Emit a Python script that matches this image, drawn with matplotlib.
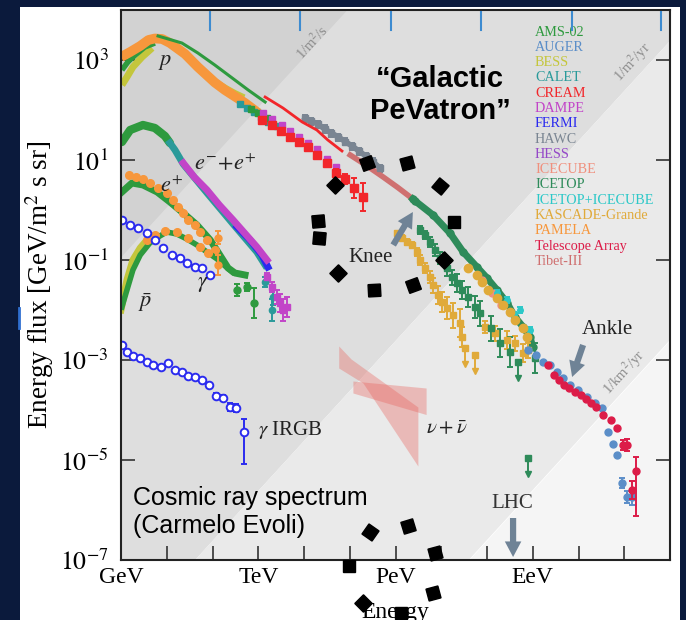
import matplotlib.pyplot as plt
import numpy as np
from matplotlib.patches import Rectangle
from matplotlib.lines import Line2D

plt.rcParams['font.family'] = ['Liberation Serif', 'DejaVu Serif']
plt.rcParams['mathtext.fontset'] = 'stix'

# all values are log10(E / GeV) and log10(energy flux)

# protons
ams_p_lo_E = [0.02, 0.15, 0.31, 0.52, 0.74]
ams_p_lo_F = [2.80, 2.96, 3.10, 3.26, 3.34]
ams_p_E = [0.81, 1.33, 1.68, 2.05, 2.43, 2.78, 3.15]
ams_p_F = [3.48, 3.34, 3.14, 2.90, 2.64, 2.40, 2.16]
bess_p_E = [0.02, 0.13, 0.26, 0.46, 0.68]
bess_p_F = [2.50, 2.66, 2.86, 3.06, 3.24]
bess_p2_E = [2.12, 2.30, 2.50, 2.64]
bess_p2_F = [2.54, 2.44, 2.34, 2.28]
pamela_p_E = [0.0, 0.2, 0.42, 0.6, 0.74, 0.9, 1.07, 1.4, 1.68, 2.05, 2.27, 2.71, 3.0]
pamela_p_F = [3.06, 3.16, 3.28, 3.40, 3.43, 3.42, 3.34, 3.12, 2.86, 2.55, 2.40, 2.14, 1.94]
calet_p_E = [2.60, 2.75, 2.90, 3.05, 3.22, 3.40]
calet_p_F = [2.12, 2.04, 1.96, 1.86, 1.76, 1.68]
ams_psq_E = [2.85, 3.0, 3.19]
ams_psq_F = [2.02, 1.94, 1.84]
dampe_p_E = [3.10, 3.30, 3.52, 3.69, 3.89, 4.09, 4.28, 4.50, 4.70]
dampe_p_F = [1.94, 1.82, 1.70, 1.58, 1.46, 1.34, 1.22, 1.02, 0.86]
cream_p_E = [3.08, 3.30, 3.50, 3.69, 3.89, 4.09, 4.28, 4.50, 4.70, 4.90, 5.09, 5.29]
cream_p_F = [1.80, 1.70, 1.58, 1.46, 1.36, 1.26, 1.10, 0.94, 0.74, 0.62, 0.44, 0.26]
cream_p_err = [0.02, 0.02, 0.02, 0.02, 0.02, 0.03, 0.04, 0.05, 0.08, 0.10, 0.20, 0.28]
cream_line_E = [3.15, 3.54, 3.96, 4.28, 4.52, 4.83]
cream_line_F = [2.26, 2.04, 1.76, 1.60, 1.40, 1.18]
hawc_E = [4.02, 4.15, 4.30, 4.45, 4.60, 4.75, 4.90, 5.05, 5.20, 5.35, 5.50, 5.66]
hawc_F = [1.84, 1.78, 1.72, 1.62, 1.54, 1.46, 1.37, 1.28, 1.18, 1.08, 0.97, 0.84]
tibet_E = [5.01, 5.35, 5.73, 6.05, 6.38]
tibet_F = [1.10, 0.90, 0.66, 0.45, 0.22]

# knee to ankle
icetop_E = [6.38, 6.43, 6.82, 7.19, 7.48, 7.78, 8.00, 8.22, 8.44, 8.61, 8.79, 8.94, 9.00]
icetop_F = [0.22, 0.18, -0.10, -0.46, -0.84, -1.14, -1.36, -1.60, -1.86, -2.14, -2.34, -2.54, -2.74]
kg_all_E = [7.58, 7.78, 7.89, 8.02, 8.22, 8.35, 8.50, 8.61, 8.79, 8.87]
kg_all_F = [-1.16, -1.30, -1.44, -1.60, -1.76, -1.90, -2.04, -2.20, -2.36, -2.54]
icecube_E = [7.90, 8.10, 8.30]
icecube_F = [-1.40, -1.66, -1.90]
itic_E = [8.22, 8.44, 8.60, 8.72, 8.94]
itic_F = [-1.66, -1.80, -2.10, -2.00, -2.40]
kg_light_E = [6.03, 6.14, 6.25, 6.36, 6.47, 6.54, 6.64, 6.75, 6.82, 6.93, 7.02, 7.13, 7.26, 7.41, 7.45]
kg_light_F = [-0.46, -0.55, -0.64, -0.70, -0.84, -1.00, -1.16, -1.34, -1.50, -1.70, -1.84, -1.96, -2.10, -2.26, -2.54]
kg_light_err = [0.05, 0.05, 0.06, 0.06, 0.08, 0.10, 0.10, 0.12, 0.15, 0.18, 0.20, 0.22, 0.25, 0.28, 0.20]
kg_light_ul_E = [7.52, 7.74]
kg_light_ul_F = [-2.76, -2.90]
kg_heavy_E = [7.96, 8.17, 8.44, 8.61, 8.79, 8.90]
kg_heavy_F = [-2.34, -2.46, -2.60, -2.66, -2.86, -2.80]
kg_heavy_err = [0.12, 0.15, 0.18, 0.15, 0.18, 0.15]
it_comp_E = [6.54, 6.64, 6.75, 6.86, 6.97, 7.13, 7.23, 7.34, 7.45, 7.58, 7.74, 7.85, 8.09, 8.28, 8.50, 9.05]
it_comp_F = [-0.40, -0.50, -0.64, -0.80, -0.96, -1.16, -1.34, -1.46, -1.60, -1.74, -1.94, -2.06, -2.36, -2.66, -2.84, -2.96]
it_comp_err = [0.08, 0.08, 0.10, 0.12, 0.12, 0.15, 0.15, 0.18, 0.18, 0.20, 0.22, 0.25, 0.25, 0.28, 0.30, 0.30]
it_comp_ul_E = [8.68, 8.90]
it_comp_ul_F = [-3.04, -4.96]

# ankle and beyond
auger_E = [8.90, 9.07, 9.22, 9.38, 9.53, 9.66, 9.81, 9.99, 10.19, 10.36, 10.51, 10.64, 10.75, 10.84, 10.95, 11.06, 11.17]
auger_F = [-2.80, -2.90, -3.04, -3.10, -3.24, -3.36, -3.50, -3.60, -3.74, -3.86, -3.96, -4.44, -4.68, -4.90, -5.46, -5.74, -5.74]
auger_err = [0.02] * 14 + [0.10, 0.12, 0.15]
ta_E = [9.33, 9.46, 9.57, 9.68, 9.79, 9.92, 10.05, 10.16, 10.27, 10.38, 10.54, 10.71, 10.84, 10.97, 11.06, 11.17, 11.26]
ta_F = [-3.10, -3.30, -3.40, -3.50, -3.56, -3.64, -3.70, -3.78, -3.86, -3.94, -4.10, -4.20, -4.36, -4.70, -4.70, -5.60, -5.22]
ta_err_lo = [0.02] * 13 + [0.10, 0.12, 0.18, 0.90]
ta_err_hi = [0.02] * 13 + [0.10, 0.12, 0.18, 0.28]

# electrons + positrons
ams_ee_E = [0.02, 0.20, 0.48, 0.74, 0.96, 1.07]
ams_ee_F = [1.36, 1.60, 1.70, 1.64, 1.48, 1.34]
calet_ee_E = [1.07, 1.18, 1.36, 1.90, 2.45, 2.97, 3.15]
calet_ee_F = [1.34, 1.20, 0.92, 0.32, -0.28, -0.84, -1.10]
dampe_ee_E = [1.36, 1.60, 1.88, 2.15, 2.45, 2.70, 2.97, 3.19]
dampe_ee_F = [0.94, 0.66, 0.40, 0.10, -0.20, -0.46, -0.74, -1.00]
fermi_ee_E = [2.54, 2.82, 3.08, 3.21]
fermi_ee_F = [-0.34, -0.60, -0.90, -1.14]
ee_tail_E = [3.19, 3.30, 3.41, 3.48, 3.54, 3.63]
ee_tail_F = [-1.34, -1.54, -1.74, -1.86, -2.00, -1.94]
ee_tail_err = [0.08, 0.10, 0.14, 0.18, 0.22, 0.20]
calet_tail_E = [3.15, 3.32, 3.30]
calet_tail_F = [-1.44, -1.74, -2.00]
calet_tail_err = [0.10, 0.15, 0.22]

# positrons
ams_pos_E = [0.02, 0.24, 0.48, 0.79, 1.07, 1.36, 1.66, 1.95, 2.16, 2.34, 2.49, 2.71]
ams_pos_F = [0.36, 0.54, 0.50, 0.36, 0.16, -0.06, -0.30, -0.60, -0.90, -1.16, -1.26, -1.30]
pamela_pos_E = [0.17, 0.33, 0.48, 0.63, 0.81, 1.00, 1.14, 1.25, 1.36, 1.46, 1.62, 1.73, 1.88, 2.05]
pamela_pos_F = [0.70, 0.66, 0.62, 0.54, 0.44, 0.34, 0.20, 0.06, -0.06, -0.20, -0.30, -0.44, -0.60, -0.80]
pamela_pos_hi_E = [2.12, 2.12]
pamela_pos_hi_F = [-0.55, -1.10]
pamela_pos_hi_err = [0.13, 0.20]
ams_pos_hi_E = [2.54, 2.75, 2.91]
ams_pos_hi_F = [-1.60, -1.54, -1.86]
ams_pos_hi_err = [0.12, 0.08, 0.30]

# antiprotons
bess_pbar_E = [0.00, 0.13, 0.26, 0.42, 0.55]
bess_pbar_F = [-2.00, -1.40, -1.00, -0.76, -0.62]
ams_pbar_E = [0.02, 0.13, 0.26, 0.42, 0.63, 0.85, 1.00, 1.22, 1.44, 1.66, 1.88, 2.10, 2.30, 2.43]
ams_pbar_F = [-1.94, -1.60, -1.20, -0.90, -0.66, -0.52, -0.44, -0.48, -0.58, -0.70, -0.84, -0.98, -1.14, -1.24]
pamela_pbar_E = [0.57, 0.74, 0.96, 1.22, 1.46, 1.73, 1.90]
pamela_pbar_F = [-0.60, -0.50, -0.42, -0.44, -0.56, -0.74, -0.86]

# gamma rays
gamma_E = [0.02, 0.20, 0.37, 0.57, 0.74, 0.92, 1.11, 1.29, 1.44, 1.62, 1.77, 1.95]
gamma_F = [-0.20, -0.30, -0.36, -0.46, -0.60, -0.76, -0.90, -0.96, -1.06, -1.14, -1.16, -1.30]
irgb_E = [0.02, 0.13, 0.26, 0.42, 0.57, 0.70, 0.87, 1.03, 1.18, 1.33, 1.46, 1.62, 1.77, 1.92, 2.08, 2.23, 2.38, 2.51, 2.69]
irgb_F = [-2.70, -2.84, -2.92, -2.96, -3.04, -3.10, -3.14, -3.06, -3.20, -3.24, -3.32, -3.34, -3.40, -3.50, -3.72, -3.76, -3.94, -3.96, -4.44]
irgb_err_lo = [0.02] * 13 + [0.03, 0.06, 0.06, 0.08, 0.08, 0.64]
irgb_err_hi = [0.02] * 13 + [0.03, 0.06, 0.06, 0.08, 0.08, 0.26]

# neutrino bands (polygon outlines)
nu_a_E = [4.77, 5.04, 6.50, 6.50, 5.30, 4.77]
nu_a_F = [-2.73, -2.99, -3.95, -5.13, -3.47, -3.17]
nu_b_E = [5.08, 6.68, 6.68, 5.08]
nu_b_F = [-3.43, -3.57, -4.10, -3.67]

legend_names = ['AMS-02', 'AUGER', 'BESS', 'CALET', 'CREAM', 'DAMPE', 'FERMI', 'HAWC', 'HESS',
                'ICECUBE', 'ICETOP', 'ICETOP+ICECUBE', 'KASCADE-Grande', 'PAMELA',
                'Telescope Array', 'Tibet-III']
legend_colors = ['#2e9a3e', '#5b8ec8', '#c4c63c', '#2a9a9a', '#f2262a', '#c244c8', '#2b2bef', '#7a8592',
                 '#9548c8', '#f0907e', '#2e8b5a', '#2cc8c8', '#e0aa3a', '#f7973c', '#dc1c48', '#cf7070']
col = dict(zip(legend_names, legend_colors))

# "Galactic PeVatron" marker ring (log E, log F, marker rotation)
ring = [(5.38, 0.94, 65), (6.25, 0.94, 60), (4.68, 0.50, 0), (6.97, 0.48, 5), (4.31, -0.22, 50),
        (7.28, -0.24, 45), (4.33, -0.56, 40), (7.06, -1.00, 0), (4.74, -1.26, 0), (5.53, -1.60, 48),
        (6.38, -1.50, 65), (5.44, -6.44, 10), (6.27, -6.32, 62), (6.86, -6.86, 60), (4.98, -7.12, 45),
        (6.82, -7.66, 60), (5.29, -7.86, 0), (6.12, -8.06, 45)]


def P(v):
    return np.power(10.0, np.asarray(v, dtype=float))


def ebar(ax, lx, ly, lo, hi, color, marker='s', ms=5, **kw):
    ly = np.asarray(ly, dtype=float)
    y = P(ly)
    ax.errorbar(P(lx), y, yerr=[y - P(ly - np.asarray(lo)), P(ly + np.asarray(hi)) - y],
                fmt=marker, color=color, ms=ms, elinewidth=1.4, capsize=2.5, capthick=1.4,
                zorder=kw.pop('zorder', 4), **kw)


def uplim(ax, lx, ly, color, ms=5):
    ly = np.asarray(ly, dtype=float)
    ax.vlines(P(lx), P(ly - 0.32), P(ly), color=color, lw=1.4, zorder=4)
    ax.plot(P(lx), P(ly - 0.32), 'v', color=color, ms=4, zorder=4)
    ax.plot(P(lx), P(ly), 's', color=color, ms=ms, zorder=4)


fig = plt.figure(figsize=(6.86, 6.2), dpi=100, facecolor='#0b1a3c')
fig.add_artist(Rectangle((20 / 686, 0), 660 / 686, 613 / 620, transform=fig.transFigure,
                         facecolor='white', edgecolor='none', zorder=-1))
fig.add_artist(Line2D([19 / 686, 19 / 686], [1 - 328 / 620, 1 - 308 / 620], transform=fig.transFigure,
                      color='#2f6fd0', lw=2))
ax = fig.add_axes([121 / 686, 60 / 620, 549 / 686, 550 / 620])
ax.set_xscale('log')
ax.set_yscale('log')
ax.set_xlim(1, 1e12)
ax.set_ylim(1e-7, 1e4)

# background bands of constant particle flux
xb = np.array([1.0, 1e12])
offsets = [-0.95, -8.62, -14.6]
ax.fill_between(xb, xb * P(offsets[0]), 1e6, color='#d2d2d2', lw=0, zorder=0)
ax.fill_between(xb, xb * P(offsets[1]), xb * P(offsets[0]), color='#dedede', lw=0, zorder=0)
ax.fill_between(xb, xb * P(offsets[2]), xb * P(offsets[1]), color='#eaeaea', lw=0, zorder=0)
ax.fill_between(xb, 1e-9, xb * P(offsets[2]), color='#f5f5f5', lw=0, zorder=0)
band_kw = dict(rotation=47.5, rotation_mode='anchor', ha='center', va='center', fontsize=10.5, color='#8c8c8c')
ax.text(P(4.17), P(3.36), '1/m$^2$/s', **band_kw)
ax.text(P(11.19), P(2.96), '1/m$^2$/yr', **band_kw)
ax.text(P(10.99), P(-3.24), '1/km$^2$/yr', **band_kw)

# neutrinos
ax.fill(P(nu_a_E), P(nu_a_F), color='#e8605a', alpha=0.35, lw=0, zorder=2)
ax.fill(P(nu_b_E), P(nu_b_F), color='#e8605a', alpha=0.35, lw=0, zorder=2)

# protons
ax.plot(P(bess_p_E), P(bess_p_F), color=col['BESS'], lw=5, solid_capstyle='butt', zorder=3)
ax.plot(P(ams_p_lo_E), P(ams_p_lo_F), color=col['AMS-02'], lw=4, solid_capstyle='butt', zorder=3)
ax.plot(P(bess_p2_E), P(bess_p2_F), color=col['BESS'], lw=4, zorder=3)
ax.plot(P(pamela_p_E), P(pamela_p_F), color=col['PAMELA'], lw=7, solid_capstyle='butt',
        solid_joinstyle='round', zorder=3)
ax.plot(P(ams_p_E), P(ams_p_F), color=col['AMS-02'], lw=2.2, zorder=3)
ax.plot(P(calet_p_E), P(calet_p_F), 's', color=col['CALET'], ms=5, zorder=3)
ax.plot(P(ams_psq_E), P(ams_psq_F), 's', color=col['AMS-02'], ms=5, zorder=3)
ax.plot(P(dampe_p_E), P(dampe_p_F), 's', color=col['DAMPE'], ms=5, zorder=3)
ebar(ax, cream_p_E, cream_p_F, cream_p_err, cream_p_err, col['CREAM'], ms=5.5)
ebar(ax, hawc_E, hawc_F, [0.07] * len(hawc_E), [0.07] * len(hawc_E), col['HAWC'], ms=4.5, zorder=3)
ax.plot(P(hawc_E), P(hawc_F), color=col['HAWC'], lw=4, zorder=3)
ax.plot(P(cream_line_E), P(cream_line_F), color=col['CREAM'], lw=2, zorder=4)
ax.plot(P(tibet_E), P(tibet_F), color=col['Tibet-III'], lw=4, zorder=3)

# knee to ankle
ebar(ax, kg_light_E, kg_light_F, kg_light_err, kg_light_err, col['KASCADE-Grande'], ms=5)
uplim(ax, kg_light_ul_E, kg_light_ul_F, col['KASCADE-Grande'])
ebar(ax, kg_heavy_E, kg_heavy_F, kg_heavy_err, kg_heavy_err, col['KASCADE-Grande'], ms=5)
ebar(ax, it_comp_E, it_comp_F, it_comp_err, it_comp_err, col['ICETOP'], ms=5)
uplim(ax, it_comp_ul_E, it_comp_ul_F, col['ICETOP'])
ax.plot(P(icetop_E), P(icetop_F), 'o-', color=col['ICETOP'], lw=5, ms=5, zorder=3)
ebar(ax, itic_E, itic_F, [0.06] * 5, [0.06] * 5, col['ICETOP+ICECUBE'], marker='o', ms=4, zorder=3)
ax.plot(P(icecube_E), P(icecube_F), 'o', color=col['ICECUBE'], ms=5, zorder=3)
ax.plot(P(kg_all_E), P(kg_all_F), 'o', color=col['KASCADE-Grande'], ms=6, zorder=4)
ebar(ax, auger_E, auger_F, auger_err, auger_err, col['AUGER'], marker='o', ms=5)
ebar(ax, ta_E, ta_F, ta_err_lo, ta_err_hi, col['Telescope Array'], marker='o', ms=5, zorder=5)

# electrons
ax.plot(P(ams_ee_E), P(ams_ee_F), color=col['AMS-02'], lw=6, solid_capstyle='round', zorder=3)
ax.plot(P(calet_ee_E), P(calet_ee_F), color=col['CALET'], lw=5, zorder=3)
ax.plot(P(fermi_ee_E), P(fermi_ee_F), color=col['FERMI'], lw=5, zorder=3)
ax.plot(P(dampe_ee_E), P(dampe_ee_F), color=col['DAMPE'], lw=5, zorder=3)
ebar(ax, calet_tail_E, calet_tail_F, calet_tail_err, calet_tail_err, col['CALET'], marker='o', ms=4.5)
ebar(ax, ee_tail_E, ee_tail_F, ee_tail_err, ee_tail_err, col['DAMPE'], ms=5)

# positrons and antiprotons
ax.plot(P(ams_pos_E), P(ams_pos_F), color=col['AMS-02'], lw=5, zorder=3)
ax.plot(P(pamela_pos_E), P(pamela_pos_F), 'o', color=col['PAMELA'], ms=5.5, zorder=3)
ebar(ax, pamela_pos_hi_E, pamela_pos_hi_F, pamela_pos_hi_err, pamela_pos_hi_err, col['PAMELA'], marker='o', ms=5)
ebar(ax, ams_pos_hi_E, ams_pos_hi_F, ams_pos_hi_err, ams_pos_hi_err, col['AMS-02'], marker='o', ms=5)
ax.plot(P(bess_pbar_E), P(bess_pbar_F), color=col['BESS'], lw=5, zorder=3)
ax.plot(P(ams_pbar_E), P(ams_pbar_F), color=col['AMS-02'], lw=4, zorder=3)
ax.plot(P(pamela_pbar_E), P(pamela_pbar_F), 'o', color=col['PAMELA'], ms=5.5, zorder=3)

# gamma rays
ax.plot(P(gamma_E), P(gamma_F), 'o', mfc='white', mec=col['FERMI'], mew=1.4, ms=5.5, zorder=4)
ebar(ax, irgb_E, irgb_F, irgb_err_lo, irgb_err_hi, col['FERMI'], marker='o', ms=5.5,
     mfc='white', mec=col['FERMI'], mew=1.4)

# labels
lab = dict(fontsize=16, color='#222222', ha='center', va='center', zorder=6)
ax.text(P(0.96), P(2.94), '$p$', **lab)
ax.text(P(2.27), P(0.90), r'$e^{-}\!+\!e^{+}$', **lab)
ax.text(P(1.11), P(0.46), '$e^{+}$', **lab)
ax.text(P(1.79), P(-1.50), r'$\gamma$', **lab)
ax.text(P(0.52), P(-1.86), r'$\bar{p}$', **lab)
ax.text(P(3.69), P(-4.40), r'$\gamma$ IRGB', fontsize=15, color='#222222', ha='center', va='center')
ax.text(P(7.13), P(-4.40), r'$\nu+\bar{\nu}$', fontsize=15, color='#222222', ha='center', va='center')
ax.text(P(5.46), P(-0.94), 'Knee', fontsize=15, color='#222222', ha='center', va='center')
ax.text(P(10.64), P(-2.40), 'Ankle', fontsize=15, color='#222222', ha='center', va='center')
ax.text(P(8.55), P(-5.86), 'LHC', fontsize=15, color='#333333', ha='center', va='center')

arrow = dict(arrowstyle='simple,head_length=0.8,head_width=0.85,tail_width=0.32', color='#6f8396',
             lw=0, shrinkA=0, shrinkB=0, mutation_scale=14)
ax.annotate('', xy=(P(6.38), P(-0.04)), xytext=(P(5.95), P(-0.70)), arrowprops=arrow, zorder=6)
ax.annotate('', xy=(P(9.86), P(-3.34)), xytext=(P(10.10), P(-2.70)), arrowprops=arrow, zorder=6)
ax.annotate('', xy=(P(8.57), P(-6.94)), xytext=(P(8.57), P(-6.16)), arrowprops=arrow, zorder=6)

ax.text(P(6.97), P(2.30), '\u201cGalactic\nPeVatron\u201d', family='Liberation Sans', weight='bold',
        fontsize=21, ha='center', va='center', multialignment='center', linespacing=1.2, zorder=6)
ax.text(P(0.26), P(-6.04), 'Cosmic ray spectrum\n(Carmelo Evoli)', family='Liberation Sans',
        fontsize=18, ha='left', va='center', linespacing=1.25, zorder=6)

for i, (name, c) in enumerate(zip(legend_names, legend_colors)):
    ax.text(0.754, 0.96 - i * 0.0278, name, transform=ax.transAxes, fontsize=10.2, color=c,
            ha='left', va='center', zorder=6)

# ring of black markers (drawn over everything)
for lx, ly, ang in ring:
    ax.plot(P(lx), P(ly), marker=(4, 0, ang), ms=12.5, color='black', clip_on=False, zorder=10)

# axes styling
ax.set_xticks(P(np.arange(0, 13)))
ax.set_xticklabels(['GeV', '', '', 'TeV', '', '', 'PeV', '', '', 'EeV', '', '', ''])
ax.minorticks_off()
ax.set_yticks(P([-7, -5, -3, -1, 1, 3]))
ax.set_yticklabels(['$10^{-7}$', '$10^{-5}$', '$10^{-3}$', '$10^{-1}$', '$10^{1}$', '$10^{3}$'])
ax.tick_params(axis='x', direction='in', length=10, width=1.2, color='#333333', labelsize=17, pad=5,
               top=False)
ax.tick_params(axis='y', direction='in', length=10, width=1.2, color='#333333', labelsize=18.5, pad=9,
               right=True)
for s in ax.spines.values():
    s.set_linewidth(1.5)
    s.set_color('#222222')
    s.set_zorder(7)
for lx in [1.95, 3.92, 5.9, 7.87, 9.85, 11.8]:
    ax.plot([P(lx)] * 2, [1 - 2 / 550, 1 - 20 / 550], transform=ax.get_xaxis_transform(),
            color='#3d8bd0', lw=1.5, clip_on=False, zorder=8)

fig.text(40 / 686, 1 - 285 / 620, 'Energy flux [GeV/m$^2$ s sr]', rotation=90, ha='center',
         va='center', fontsize=19.5)
fig.text(395 / 686, 1 - 602 / 620, 'Energy', ha='center', va='top', fontsize=17)

fig.savefig('out.png', dpi=100, facecolor=fig.get_facecolor())
